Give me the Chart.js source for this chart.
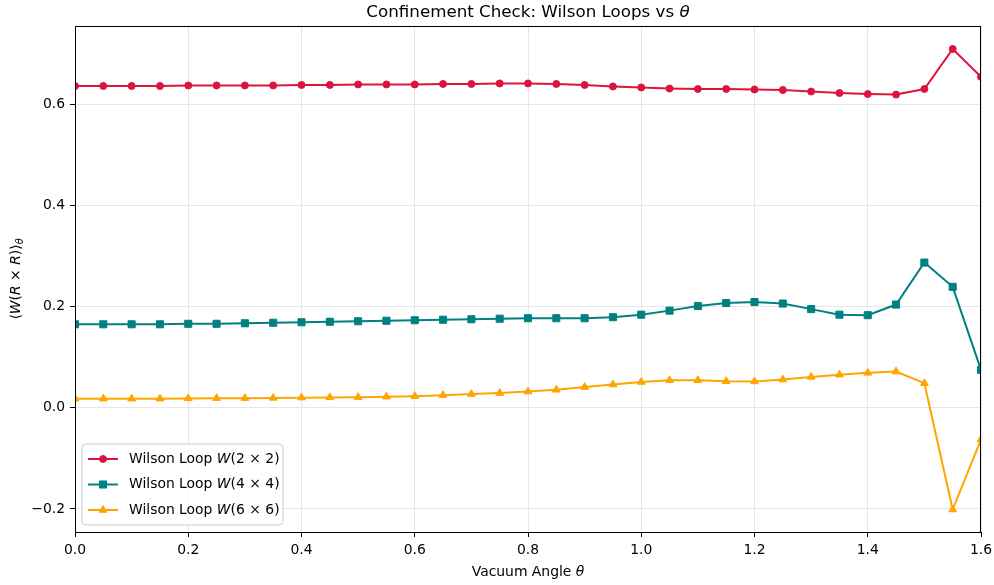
<!DOCTYPE html>
<html lang="en">
<head>
    <meta charset="UTF-8">
    <title>Confinement Check: Wilson Loops vs theta</title>
    <script src="https://cdn.jsdelivr.net/npm/chart.js"></script>
    <style>
        body { margin: 0; background: #fff; }
        canvas { display: block; }
    </style>
</head>
<body>
    <canvas id="wilsonChart" width="994" height="585"></canvas>
    <script>
        // vacuum angle theta
        const theta = [0.00, 0.05, 0.10, 0.15, 0.20, 0.25, 0.30, 0.35, 0.40, 0.45, 0.50,
                       0.55, 0.60, 0.65, 0.70, 0.75, 0.80, 0.85, 0.90, 0.95, 1.00, 1.05,
                       1.10, 1.15, 1.20, 1.25, 1.30, 1.35, 1.40, 1.45, 1.50, 1.55, 1.60];

        const loop2x2 = [0.636, 0.636, 0.636, 0.636, 0.637, 0.637, 0.637, 0.637, 0.638, 0.638, 0.639,
                         0.639, 0.639, 0.640, 0.640, 0.641, 0.641, 0.640, 0.638, 0.635, 0.633, 0.631,
                         0.630, 0.630, 0.629, 0.628, 0.625, 0.622, 0.620, 0.619, 0.630, 0.709, 0.654];

        const loop4x4 = [0.165, 0.165, 0.165, 0.165, 0.166, 0.166, 0.167, 0.168, 0.169, 0.170, 0.171,
                         0.172, 0.173, 0.174, 0.175, 0.176, 0.177, 0.177, 0.177, 0.179, 0.184, 0.192,
                         0.201, 0.207, 0.209, 0.206, 0.195, 0.184, 0.183, 0.204, 0.287, 0.239, 0.075];

        const loop6x6 = [0.018, 0.018, 0.018, 0.018, 0.0185, 0.019, 0.019, 0.0195, 0.020, 0.0205, 0.021,
                         0.022, 0.023, 0.025, 0.027, 0.029, 0.032, 0.0355, 0.041, 0.046, 0.051, 0.0545,
                         0.0545, 0.0525, 0.052, 0.0557, 0.061, 0.0655, 0.069, 0.0715, 0.0486, -0.201, -0.063];

        const xTicks = [0.0, 0.2, 0.4, 0.6, 0.8, 1.0, 1.2, 1.4, 1.6];
        const yTicks = [-0.2, 0.0, 0.2, 0.4, 0.6];

        const seriesNames = ['(2 \u00d7 2)', '(4 \u00d7 4)', '(6 \u00d7 6)'];
        const seriesColors = ['#dc143c', '#008080', '#ffa500'];
        const seriesMarkers = ['circle', 'rect', 'triangle'];
        const markerRadius = [3.5, 5, 4.5];

        const FONT = "'DejaVu Sans', sans-serif";

        function toPoints(ys) {
            return theta.map((t, i) => ({ x: t, y: ys[i] }));
        }

        // draw a row of text pieces (some italic) as one string
        function drawParts(ctx, parts, x, y, align) {
            let total = 0;
            parts.forEach(p => {
                ctx.font = (p.italic ? 'italic ' : '') + p.size + 'px ' + FONT;
                p.w = ctx.measureText(p.text).width;
                total += p.w;
            });
            let cx = align === 'center' ? x - total / 2 : x;
            parts.forEach(p => {
                ctx.font = (p.italic ? 'italic ' : '') + p.size + 'px ' + FONT;
                ctx.fillText(p.text, cx, y + (p.dy || 0));
                cx += p.w;
            });
        }

        const decorPlugin = {
            id: 'decor',
            afterDraw(chart) {
                const ctx = chart.ctx;
                const a = chart.chartArea;
                ctx.save();

                // spines
                ctx.strokeStyle = '#000';
                ctx.lineWidth = 1;
                ctx.strokeRect(Math.round(a.left) + 0.5, Math.round(a.top) + 0.5,
                               Math.round(a.right - a.left) - 1, Math.round(a.bottom - a.top));

                ctx.fillStyle = '#000';
                ctx.textBaseline = 'middle';
                ctx.textAlign = 'left';
                const midX = (a.left + a.right) / 2;

                // title
                drawParts(ctx, [
                    { text: 'Confinement Check: Wilson Loops vs ', size: 16.7 },
                    { text: '\u03b8', size: 16.7, italic: true }
                ], midX, 13, 'center');

                // x axis title
                drawParts(ctx, [
                    { text: 'Vacuum Angle ', size: 13.9 },
                    { text: '\u03b8', size: 13.9, italic: true }
                ], midX, 572, 'center');

                // y axis title
                ctx.save();
                ctx.translate(16, (a.top + a.bottom) / 2);
                ctx.rotate(-Math.PI / 2);
                drawParts(ctx, [
                    { text: '\u27e8', size: 13.9 },
                    { text: 'W', size: 13.9, italic: true },
                    { text: '(', size: 13.9 },
                    { text: 'R', size: 13.9, italic: true },
                    { text: ' \u00d7 ', size: 13.9 },
                    { text: 'R', size: 13.9, italic: true },
                    { text: ')\u27e9', size: 13.9 },
                    { text: '\u03b8', size: 9.7, italic: true, dy: 4 }
                ], 0, 0, 'center');
                ctx.restore();

                // legend box
                const bx = 82, by = 444, bw = 201, bh = 81, r = 4;
                ctx.beginPath();
                ctx.moveTo(bx + r, by);
                ctx.arcTo(bx + bw, by, bx + bw, by + bh, r);
                ctx.arcTo(bx + bw, by + bh, bx, by + bh, r);
                ctx.arcTo(bx, by + bh, bx, by, r);
                ctx.arcTo(bx, by, bx + bw, by, r);
                ctx.closePath();
                ctx.fillStyle = 'rgba(255,255,255,0.8)';
                ctx.fill();
                ctx.strokeStyle = '#cccccc';
                ctx.stroke();

                seriesNames.forEach((name, i) => {
                    const ly = 459 + i * 25.5;
                    ctx.strokeStyle = seriesColors[i];
                    ctx.lineWidth = 2;
                    ctx.beginPath();
                    ctx.moveTo(88, ly);
                    ctx.lineTo(118, ly);
                    ctx.stroke();
                    ctx.fillStyle = seriesColors[i];
                    ctx.lineWidth = 1;
                    Chart.helpers.drawPoint(ctx, {
                        pointStyle: seriesMarkers[i],
                        rotation: 0,
                        radius: markerRadius[i],
                        borderWidth: 1
                    }, 103, ly);
                    ctx.fillStyle = '#000';
                    drawParts(ctx, [
                        { text: 'Wilson Loop ', size: 13.9 },
                        { text: 'W', size: 13.9, italic: true },
                        { text: name, size: 13.9 }
                    ], 129, ly, 'left');
                });

                ctx.restore();
            }
        };

        const datasets = [loop2x2, loop4x4, loop6x6].map((ys, i) => ({
            label: 'Wilson Loop W' + seriesNames[i],
            data: toPoints(ys),
            borderColor: seriesColors[i],
            backgroundColor: seriesColors[i],
            borderWidth: 2,
            pointStyle: seriesMarkers[i],
            pointRadius: markerRadius[i],
            pointBorderWidth: 1,
            clip: 0,
            tension: 0
        }));

        new Chart(document.getElementById('wilsonChart'), {
            type: 'line',
            data: { datasets: datasets },
            options: {
                responsive: false,
                animation: false,
                devicePixelRatio: 1,
                layout: { padding: { top: 26, right: 13, left: 0, bottom: 0 } },
                plugins: {
                    legend: { display: false },
                    title: { display: false },
                    tooltip: { enabled: false }
                },
                scales: {
                    x: {
                        type: 'linear',
                        min: 0,
                        max: 1.6,
                        afterBuildTicks: s => { s.ticks = xTicks.map(v => ({ value: v })); },
                        afterFit: s => { s.height = 53; s.paddingLeft = 0; s.paddingRight = 0; },
                        border: { display: false },
                        grid: { color: '#e6e6e6', lineWidth: 1, tickColor: '#000', tickLength: 5 },
                        ticks: {
                            color: '#000',
                            padding: 5,
                            maxRotation: 0,
                            font: { family: FONT, size: 13.9 },
                            callback: v => v.toFixed(1)
                        }
                    },
                    y: {
                        type: 'linear',
                        min: -0.2455,
                        max: 0.7545,
                        afterBuildTicks: s => { s.ticks = yTicks.map(v => ({ value: v })); },
                        afterFit: s => { s.width = 75; s.paddingTop = 0; s.paddingBottom = 0; },
                        border: { display: false },
                        grid: { color: '#e6e6e6', lineWidth: 1, tickColor: '#000', tickLength: 5 },
                        ticks: {
                            color: '#000',
                            padding: 5,
                            font: { family: FONT, size: 13.9 },
                            callback: v => v.toFixed(1).replace('-', '\u2212')
                        }
                    }
                }
            },
            plugins: [decorPlugin]
        });
    </script>
</body>
</html>
